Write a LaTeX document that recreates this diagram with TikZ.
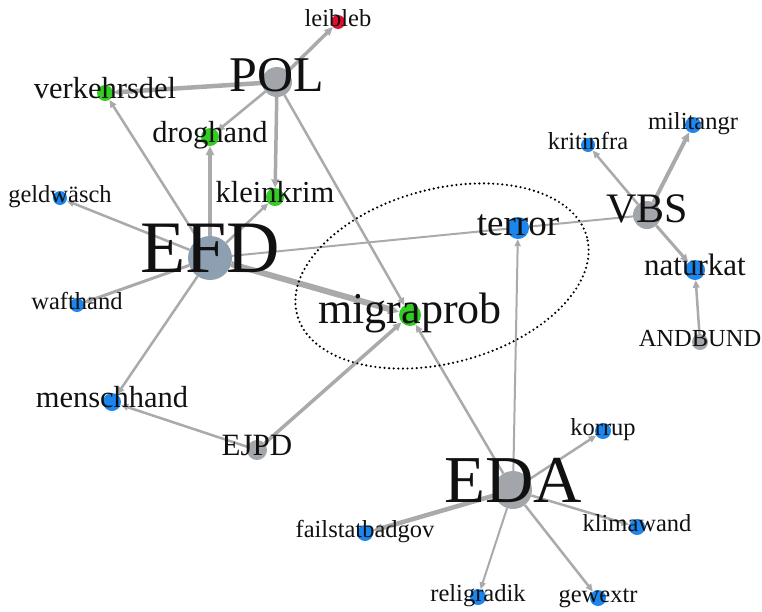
\documentclass[tikz,border=0pt]{standalone}
\usepackage{fontspec}
\setmainfont{Liberation Serif}
\usetikzlibrary{arrows.meta}
\pgfdeclarelayer{bg}
\pgfsetlayers{bg,main}
\definecolor{dblue}{HTML}{1B86EE}
\definecolor{dgreen}{HTML}{33CC22}
\definecolor{dred}{HTML}{E0102F}
\definecolor{dgray}{HTML}{A2A5AA}
\definecolor{dslate}{HTML}{8E9FB2}
\definecolor{egray}{HTML}{AAAAAA}
\definecolor{txt}{HTML}{111111}
\newcommand\nd[6]{\node[dot,fill=#5,minimum size={2*#4pt}] (#1) at (#2,#3) {};}
\newcommand\lb[3]{\node[lab,font=\fontsize{#2}{#2}\selectfont] at ([yshift={-0.19*#2pt}]#1.center) {#3};}
\begin{document}
\begin{tikzpicture}[x=1pt,y=-1pt,
  dot/.style={circle,inner sep=0pt,draw=none},
  lab/.style={anchor=base,inner sep=0pt,text=txt},
  edge/.style={draw=egray,line width=#1,-{Triangle[length=5pt 1,width=4pt 1]},fill=egray},
  edge/.default=2pt,
  plain/.style={draw=egray,line width=#1},
  plain/.default=1.5pt]
\useasboundingbox (0,0) rectangle (762,611);
% dots
\nd{leibleb}{338}{22}{7}{dred}{}
\nd{POL}{277}{82}{15}{dgray}{}
\nd{verk}{105}{93}{8}{dgreen}{}
\nd{drog}{210}{137}{9}{dgreen}{}
\nd{klein}{275}{197}{9}{dgreen}{}
\nd{geld}{60}{198}{7}{dblue}{}
\nd{EFD}{210}{258}{22}{dslate}{}
\nd{waff}{77}{305}{7}{dblue}{}
\nd{migra}{410}{315}{11}{dgreen}{}
\nd{terror}{518}{228}{11}{dblue}{}
\nd{VBS}{647}{215}{14}{dgray}{}
\nd{krit}{588}{145}{7}{dblue}{}
\nd{milit}{693}{125}{8}{dblue}{}
\nd{natur}{695}{270}{10}{dblue}{}
\nd{AND}{700}{342}{8}{dgray}{}
\nd{mensch}{112}{402}{9}{dblue}{}
\nd{EJPD}{257}{450}{10}{dgray}{}
\nd{EDA}{513}{490}{19}{dgray}{}
\nd{korr}{603}{431}{8}{dblue}{}
\nd{klima}{637}{527}{8}{dblue}{}
\nd{fail}{365}{533}{8}{dblue}{}
\nd{relig}{478}{597}{8}{dblue}{}
\nd{gew}{598}{598}{8}{dblue}{}
% edges
\begin{pgfonlayer}{bg}
\draw[edge=3.5pt] (POL) -- (leibleb);
\draw[edge=4.5pt] (POL) -- (verk);
\draw[edge=2.6pt] (POL) -- (drog);
\draw[edge=3.5pt] (POL) -- (klein);
\draw[edge=2.5pt] (POL) -- (migra);
\draw[edge=2.5pt] (EFD) -- (verk);
\draw[edge=4pt] (EFD) -- (drog);
\draw[edge=2.5pt] (EFD) -- (klein);
\draw[edge=2.5pt] (EFD) -- (geld);
\draw[edge=3pt] (EFD) -- (waff);
\draw[edge=2.5pt] (EFD) -- (mensch);
\draw[edge=6pt] (EFD) -- (migra);
\draw[plain=2pt] (EFD) -- (VBS);
\draw[edge=2.5pt] (VBS) -- (krit);
\draw[edge=4pt] (VBS) -- (milit);
\draw[edge=3pt] (VBS) -- (natur);
\draw[edge=2.5pt] (AND) -- (natur);
\draw[edge=2pt] (EDA) -- (terror);
\draw[edge=2.5pt] (EDA) -- (migra);
\draw[edge=2.5pt] (EDA) -- (korr);
\draw[edge=2.5pt] (EDA) -- (klima);
\draw[edge=4.5pt] (EDA) -- (fail);
\draw[edge=2pt] (EDA) -- (relig);
\draw[edge=2.5pt] (EDA) -- (gew);
\draw[edge=3.5pt] (EJPD) -- (migra);
\draw[edge=2.5pt] (EJPD) -- (mensch);
\end{pgfonlayer}
% dotted ellipse
\coordinate (ellc) at (442,276);
\draw[line width=2.4pt,dash pattern=on 0pt off 4.6pt,line cap=round,rotate around={15:(ellc)}] (ellc) ellipse [x radius=150pt,y radius=87pt];
% labels
\lb{leibleb}{24.5}{leibleb}
\lb{POL}{50}{POL}
\lb{verk}{30.5}{verkehrsdel}
\lb{drog}{30.5}{droghand}
\lb{klein}{30.5}{kleinkrim}
\lb{geld}{24.5}{geldwäsch}
\lb{EFD}{74}{EFD}
\lb{waff}{24.5}{wafthand}
\lb{migra}{44}{migraprob}
\lb{terror}{37}{terror}
\lb{VBS}{42}{VBS}
\lb{krit}{24.5}{kritinfra}
\lb{milit}{24.5}{militangr}
\lb{natur}{31}{naturkat}
\lb{AND}{24.5}{ANDBUND}
\lb{mensch}{30.5}{menschhand}
\lb{EJPD}{31}{EJPD}
\lb{EDA}{67}{EDA}
\lb{korr}{24.5}{korrup}
\lb{klima}{24.5}{klimawand}
\lb{fail}{24.5}{failstatbadgov}
\lb{relig}{24.5}{religradik}
\lb{gew}{24.5}{gewextr}
\end{tikzpicture}
\end{document}
